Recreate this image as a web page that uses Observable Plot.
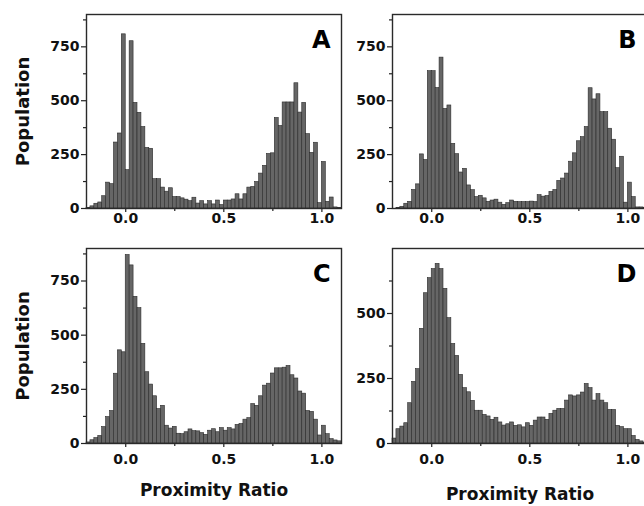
<!DOCTYPE html>
<html>
<head>
<meta charset="utf-8">
<script src="https://cdn.jsdelivr.net/npm/d3@7"></script>
<script src="https://cdn.jsdelivr.net/npm/@observablehq/plot@0.6"></script>
<style>
  html, body { margin: 0; padding: 0; background: #fff; }
  #wrap { position: relative; width: 644px; height: 506px; overflow: hidden; background: #fff; }
</style>
</head>
<body>
<div id="wrap"></div>
<script>
// Histogram bins: width 0.02, from -0.2 to 1.1 (65 bins)
const binFirst = -0.2;
const binWidth = 0.02;

// Counts per bin
const countsA = [3,10,22,28,57,120,113,306,348,808, 178,776,490,444,378,281,277,136,136,97,
  78,94,53,53,47,41,34,50,23,34, 19,34,19,37,16,37,37,42,66,42,
  66,97,100,123,162,198,253,256,420,383, 492,492,492,581,445,490,345,258,305,25,
  216,31,51,5,3];
const countsB = [0,3,8,22,31,86,112,251,225,637, 637,559,700,462,478,300,252,167,184,107,
  85,53,59,47,31,37,41,27,17,25, 37,31,30,30,30,32,30,62,55,58,
  77,86,128,139,162,217,256,312,331,378, 558,506,530,447,447,370,319,187,240,27,
  120,53,5,5,3];
const countsC = [5,15,25,35,76,122,150,322,430,421, 870,822,677,625,460,329,272,218,159,174,
  82,69,77,45,43,52,65,57,56,48, 40,59,66,52,71,59,71,65,86,90,
  110,117,182,174,218,267,276,323,347,347, 350,358,315,300,240,230,150,146,110,37,
  82,43,20,14,10];
const countsD = [19,55,65,78,155,237,286,441,578,636, 671,691,671,595,482,383,337,264,213,197,
  164,126,126,110,104,91,99,81,69,74, 81,68,70,62,78,68,88,100,100,91,
  114,126,133,133,165,185,181,185,196,229, 213,165,190,165,155,129,129,68,63,55,
  55,29,14,8,3];

const panelLetters = ["A", "B", "C", "D"];
const xDomain = [-0.2, 1.1];
const xMajorTicks = [0, 0.5, 1.0];
const xMinorTicks = [0.25, 0.75];
const yTicksABC = [0, 250, 500, 750];
const yMinorABC = [125, 375, 625, 875];
const yTicksD = [0, 250, 500];
const yMinorD = [125, 375, 625];
const yLabel = "Population";
const xLabel = "Proximity Ratio";

const FONT = "'DejaVu Sans', 'Liberation Sans', Arial, sans-serif";

function toBins(counts) {
  return counts.map((c, i) => ({x0: +(binFirst + i * binWidth).toFixed(2), count: c}));
}

function panel(o) {
  const marks = [
    Plot.rectY(toBins(o.counts), {
      x1: "x0", x2: d => d.x0 + binWidth, y: "count",
      fill: "#666666", stroke: "#2b2b2b", strokeWidth: 0.6
    }),
    Plot.axisX({ticks: xMajorTicks, tickFormat: d => d.toFixed(1), tickSize: 4, tickPadding: o.xPad,
      fontSize: 14, fontWeight: "bold", label: null, stroke: "#222", strokeWidth: 1.2, fill: "#111"}),
    Plot.axisX({ticks: xMinorTicks, tickSize: 3, text: null, label: null, stroke: "#222", strokeWidth: 1.2}),
    Plot.axisY({ticks: o.yTicks, tickSize: 5, tickPadding: 2, fontSize: 14, fontWeight: "bold",
      label: null, stroke: "#222", strokeWidth: 1.2, fill: "#111"}),
    Plot.axisY({ticks: o.yMinor, tickSize: 3, text: null, label: null, stroke: "#222", strokeWidth: 1.2}),
    Plot.frame({stroke: "#2a2a2a", strokeWidth: 1.4}),
    Plot.text([o.letter], {frameAnchor: "top-right", dx: -11, dy: 16, fontSize: 24, fontWeight: "bold", fill: "#000"})
  ];
  if (o.yLabel) marks.push(Plot.text([yLabel], {frameAnchor: "left", rotate: -90, dx: -63,
    textAnchor: "middle", lineAnchor: "middle", fontSize: 18, fontWeight: "bold", fill: "#111"}));
  if (o.xLabel) marks.push(Plot.text([xLabel], {frameAnchor: "bottom", dy: o.xLabelDy,
    textAnchor: "middle", lineAnchor: "middle", fontSize: 17, fontWeight: "bold", fill: "#111"}));
  const svg = Plot.plot({
    width: o.width, height: o.height,
    marginLeft: o.ml, marginRight: o.mr, marginTop: o.mt, marginBottom: o.mb,
    style: {fontFamily: FONT, background: "transparent", overflow: "visible", color: "#111"},
    x: {domain: xDomain},
    y: {domain: o.yDomain},
    marks
  });
  svg.style.left = o.left + "px";
  svg.style.top = o.top + "px";
  svg.style.position = "absolute";
  document.getElementById("wrap").appendChild(svg);
}

panel({counts: countsA, letter: panelLetters[0], yDomain: [0, 900], yTicks: yTicksABC, yMinor: yMinorABC,
  left: 0, top: 0, width: 344, height: 232, ml: 86, mr: 3, mt: 14, mb: 24, xPad: 1, yLabel: true});
panel({counts: countsB, letter: panelLetters[1], yDomain: [0, 900], yTicks: yTicksABC, yMinor: yMinorABC,
  left: 344, top: 0, width: 303, height: 232, ml: 48, mr: 0, mt: 14, mb: 24, xPad: 1});
panel({counts: countsC, letter: panelLetters[2], yDomain: [0, 900], yTicks: yTicksABC, yMinor: yMinorABC,
  left: 0, top: 234, width: 344, height: 272, ml: 86, mr: 3, mt: 14, mb: 63, xPad: 7, yLabel: true, xLabel: true, xLabelDy: 47});
panel({counts: countsD, letter: panelLetters[3], yDomain: [0, 750], yTicks: yTicksD, yMinor: yMinorD,
  left: 344, top: 234, width: 303, height: 272, ml: 48, mr: 0, mt: 14, mb: 63, xPad: 7, xLabel: true, xLabelDy: 51});
</script>
</body>
</html>
